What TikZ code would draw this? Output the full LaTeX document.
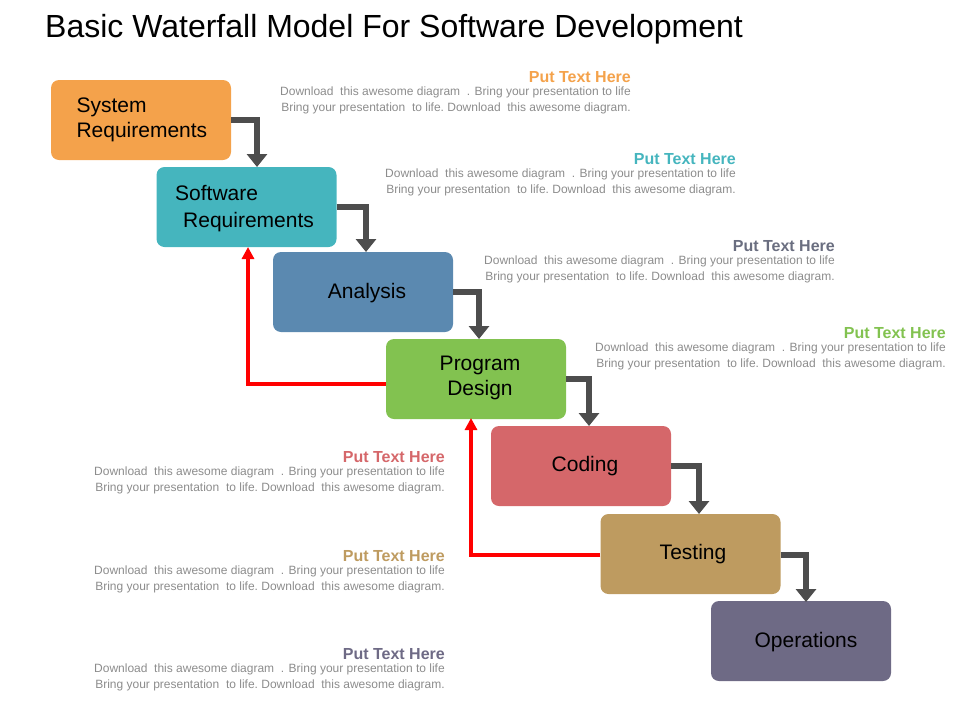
\documentclass[tikz,border=0pt]{standalone}
\usepackage{fontspec}
\setmainfont{Liberation Sans}
\usetikzlibrary{arrows.meta}
\definecolor{cOr}{HTML}{F4A24B}
\definecolor{cTe}{HTML}{45B5BE}
\definecolor{cAn}{HTML}{5B89B0}
\definecolor{cGr}{HTML}{82C250}
\definecolor{cRe}{HTML}{D5676A}
\definecolor{cTa}{HTML}{BE9B60}
\definecolor{cSl}{HTML}{6E6A85}
\definecolor{cHd}{HTML}{6A6E80}
\definecolor{cTx}{HTML}{8C8C8C}
\definecolor{cAr}{HTML}{4D4D4D}
\begin{document}
\begin{tikzpicture}[x=1pt,y=-1pt,
 stepbox/.style={rounded corners=8pt,minimum width=180pt,minimum height=80pt,inner sep=0pt,draw=none},
 btxt/.style={font=\fontsize{21}{25}\selectfont,text=black,align=center},
 flow/.style={draw=cAr,line width=6pt,-{Triangle[length=13pt,width=20pt]}},
 back/.style={draw=red,line width=4pt,-{Triangle[length=12pt,width=12pt]}},
 hd/.style={font=\fontsize{16}{18}\selectfont\bfseries,anchor=east,inner sep=0pt},
 bd/.style={font=\fontsize{12}{16}\selectfont,text=cTx,anchor=north east,align=right,inner sep=0pt}]
\useasboundingbox (0,0) rectangle (960,720);
\node[font=\fontsize{32}{36}\selectfont,anchor=west,inner sep=0pt] (title) at (45,29) {Basic Waterfall Model For Software Development};
\node[stepbox,fill=cOr] (b1) at (141,120) {};
\node[stepbox,fill=cTe] (b2) at (246.5,207) {};
\node[stepbox,fill=cAn] (b3) at (363,292) {};
\node[stepbox,fill=cGr] (b4) at (476,379) {};
\node[stepbox,fill=cRe] (b5) at (581,466) {};
\node[stepbox,fill=cTa] (b6) at (690.5,554) {};
\node[stepbox,fill=cSl] (b7) at (801,641) {};
\node[btxt,align=left,anchor=west] (t1) at (73,120) {System\\Requirements};
\node[btxt,anchor=west,inner sep=0pt] (t2a) at (175,193) {Software};
\node[btxt,anchor=west,inner sep=0pt] (t2b) at (183,222) {Requirements};
\node[btxt] (t3) at (367,293) {Analysis};
\node[btxt] (t4) at (480,378) {Program\\Design};
\node[btxt] (t5) at (585,466) {Coding};
\node[btxt] (t6) at (693,554) {Testing};
\node[btxt] (t7) at (806,642) {Operations};
\draw[flow] (b1.east |- 0,120) -- (257,120) -- (257,167);
\draw[flow] (b2.east |- 0,207) -- (366,207) -- (366,252);
\draw[flow] (b3.east |- 0,292) -- (479,292) -- (479,339);
\draw[flow] (b4.east |- 0,379) -- (589,379) -- (589,426);
\draw[flow] (b5.east |- 0,466) -- (699,466) -- (699,514);
\draw[flow] (b6.east |- 0,555) -- (806,555) -- (806,602);
\draw[back] (b4.west |- 0,384) -- (248,384) -- (248,247);
\draw[back] (b6.west |- 0,555) -- (471,555) -- (471,418);
\newcommand{\bodytxt}{Download\ \ this awesome\ diagram\ \ . Bring\ your\ presentation\ to life\\Bring\ your\ presentation\ \ to life.\ Download\ \ this awesome\ diagram.}
\foreach \nm/\xx/\yy/\cc in {p1/631/77/cOr,p2/736/159/cTe,p3/835/246/cHd,p4/946/333/cGr,p5/445/457/cRe,p6/445/556/cTa,p7/445/654/cSl}{
 \node[hd,text=\cc] (\nm h) at (\xx,\yy) {Put Text Here};
 \node[bd] (\nm b) at (\xx,\yy+10) {\bodytxt};
}
\end{tikzpicture}
\end{document}
